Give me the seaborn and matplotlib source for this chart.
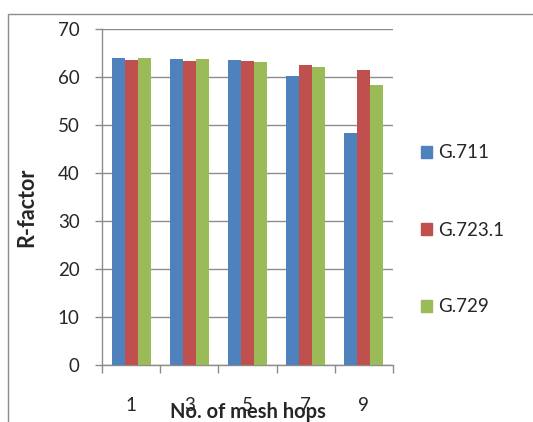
import matplotlib
matplotlib.use("Agg")
import matplotlib.pyplot as plt
import matplotlib.patches as mpatches
import seaborn as sns
import pandas as pd

# Hop counts and R-factor per codec
hops = ["1", "3", "5", "7", "9"]
codecs = ["G.711", "G.723.1", "G.729"]
r_g711 = [63.9, 63.7, 63.5, 60.2, 48.4]
r_g7231 = [63.5, 63.4, 63.3, 62.6, 61.4]
r_g729 = [63.9, 63.7, 63.2, 62.1, 58.3]
y_ticks = [0, 10, 20, 30, 40, 50, 60, 70]
colors = ["#4F81BD", "#C0504D", "#9BBB59"]

df = pd.DataFrame({
    "hops": hops * 3,
    "codec": [codecs[0]] * 5 + [codecs[1]] * 5 + [codecs[2]] * 5,
    "R": r_g711 + r_g7231 + r_g729,
})

sns.set_style("white")
plt.rcParams["font.family"] = ["Lato", "DejaVu Sans"]

W, H = 533, 422
fig = plt.figure(figsize=(W / 100, H / 100), dpi=100)
L, R, T, B = 102, 393, 29, 365
ax = fig.add_axes([L / W, 1 - B / H, (R - L) / W, (B - T) / H])

sns.barplot(data=df, x="hops", y="R", hue="codec", order=hops,
            hue_order=codecs, palette=colors, width=0.667, gap=0,
            saturation=1, ax=ax, legend=False, zorder=3,
            edgecolor="none")

grid_c = "#8c8c8c"
fs = 13.5
ax.set_ylim(0, 70)
ax.set_xlim(-0.5, len(hops) - 0.5)
ax.set_yticks(y_ticks)
ax.set_yticklabels([str(v) for v in y_ticks], fontsize=fs)
ax.yaxis.grid(True, color=grid_c, lw=1, zorder=0)
ax.set_axisbelow(True)
for s in ["top", "right"]:
    ax.spines[s].set_visible(False)
for s in ["left", "bottom"]:
    ax.spines[s].set_color(grid_c)
    ax.spines[s].set_linewidth(1)
ax.tick_params(axis="y", length=5, width=1, color=grid_c, pad=11,
               left=True, direction="out")

# category labels centred, tick marks at category boundaries
ax.set_xticks(range(len(hops)))
ax.set_xticklabels(hops, fontsize=fs)
ax.tick_params(axis="x", which="major", length=0, pad=23)
ax.set_xticks([i - 0.5 for i in range(len(hops) + 1)], minor=True)
ax.tick_params(axis="x", which="minor", length=6, width=1, color=grid_c,
               bottom=True, direction="out")

ax.set_xlabel("No. of mesh hops", fontsize=14.5, fontweight="bold")
ax.xaxis.set_label_coords(0.5, (B - 412) / (B - T))
ax.xaxis.label.set_va("center")
ax.set_ylabel("R-factor", fontsize=15.5, fontweight="bold")
ax.yaxis.set_label_coords((27 - L) / (R - L), (B - 207) / (B - T))
ax.yaxis.label.set_va("center")

handles = [mpatches.Patch(color=c, label=n) for c, n in zip(colors, codecs)]
fig.legend(handles=handles, loc="center left",
           bbox_to_anchor=(421 / W, 1 - 230 / H), frameon=False,
           fontsize=fs, handlelength=0.6, handleheight=0.6,
           handletextpad=0.3, labelspacing=3.2, borderpad=0,
           borderaxespad=0)

# chart-area frame
fig.patches.append(mpatches.Rectangle((8 / W, -0.1), 1.2, 1.1 - 14 / H,
                                      transform=fig.transFigure,
                                      fill=False, edgecolor=grid_c, lw=1))

fig.savefig("out.png", dpi=100)
